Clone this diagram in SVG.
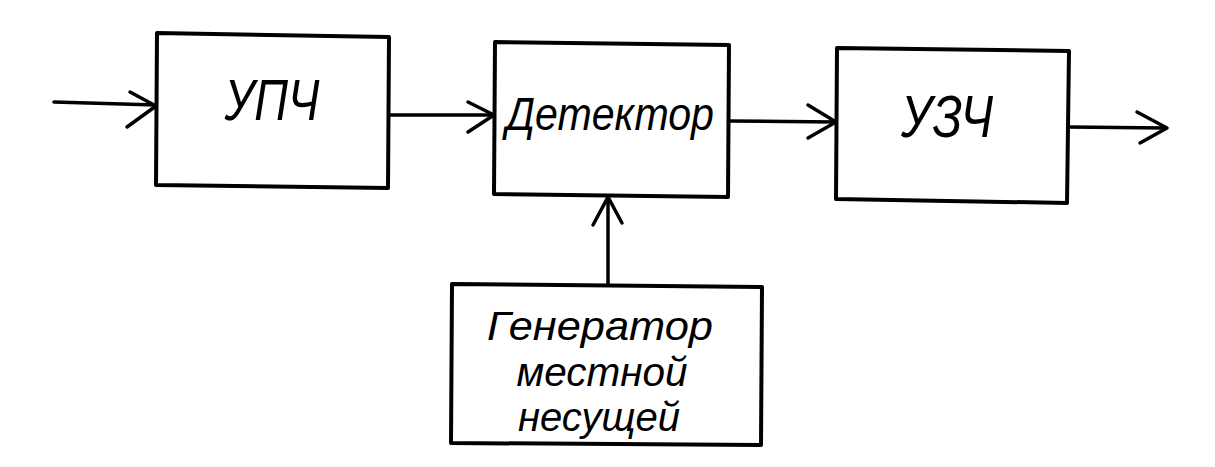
<svg xmlns="http://www.w3.org/2000/svg" width="1215" height="467" viewBox="0 0 1215 467">
<style>
.box{fill:none;stroke:#000;stroke-width:4;stroke-linejoin:round}
.ln{fill:none;stroke:#000;stroke-width:3.5;stroke-linecap:round;stroke-linejoin:round}
.t{font-family:"Liberation Sans",Arial,sans-serif;font-style:italic;fill:#000;text-anchor:middle}
</style>
<rect width="1215" height="467" fill="#fff"/>
<g id="upch">
<path class="box" d="M157,33 L389,37 L388,188 L156,185 Z"/>
<text class="t" x="272" y="120" font-size="58" textLength="95" lengthAdjust="spacingAndGlyphs">УПЧ</text>
</g>
<g id="detector">
<path class="box" d="M495,42 L729,45 L728,197 L494,194 Z"/>
<text class="t" x="610" y="130" font-size="47" textLength="208" lengthAdjust="spacingAndGlyphs">Детектор</text>
</g>
<g id="uzch">
<path class="box" d="M837,48 L1069,51 L1067,203 L836,199 Z"/>
<text class="t" x="947" y="137" font-size="60" textLength="92" lengthAdjust="spacingAndGlyphs">УЗЧ</text>
</g>
<g id="generator">
<path class="box" d="M452,284 L762,287 L761,445 L451,443 Z"/>
<text class="t" x="600" y="340" font-size="40" textLength="226" lengthAdjust="spacingAndGlyphs">Генератор</text>
<text class="t" x="602" y="386" font-size="40" textLength="171" lengthAdjust="spacingAndGlyphs">местной</text>
<text class="t" x="599" y="431" font-size="40" textLength="162" lengthAdjust="spacingAndGlyphs">несущей</text>
</g>
<g id="connectors">
<path class="ln" d="M54,102 L156,105" stroke-width="5"/>
<path class="ln" d="M130,92 L156,106 L127,127"/>
<path class="ln" d="M389,115 L494,115"/>
<path class="ln" d="M468,102 L494,115 L468,132"/>
<path class="ln" d="M729,121 L836,122"/>
<path class="ln" d="M808,105 L836,122 L808,138"/>
<path class="ln" d="M1068,127 L1166,128"/>
<path class="ln" d="M1137,112 L1167,128 L1140,143"/>
<path class="ln" d="M608,284 L608,197"/>
<path class="ln" d="M593,225 L608,197 L622,223"/>
</g>
</svg>
